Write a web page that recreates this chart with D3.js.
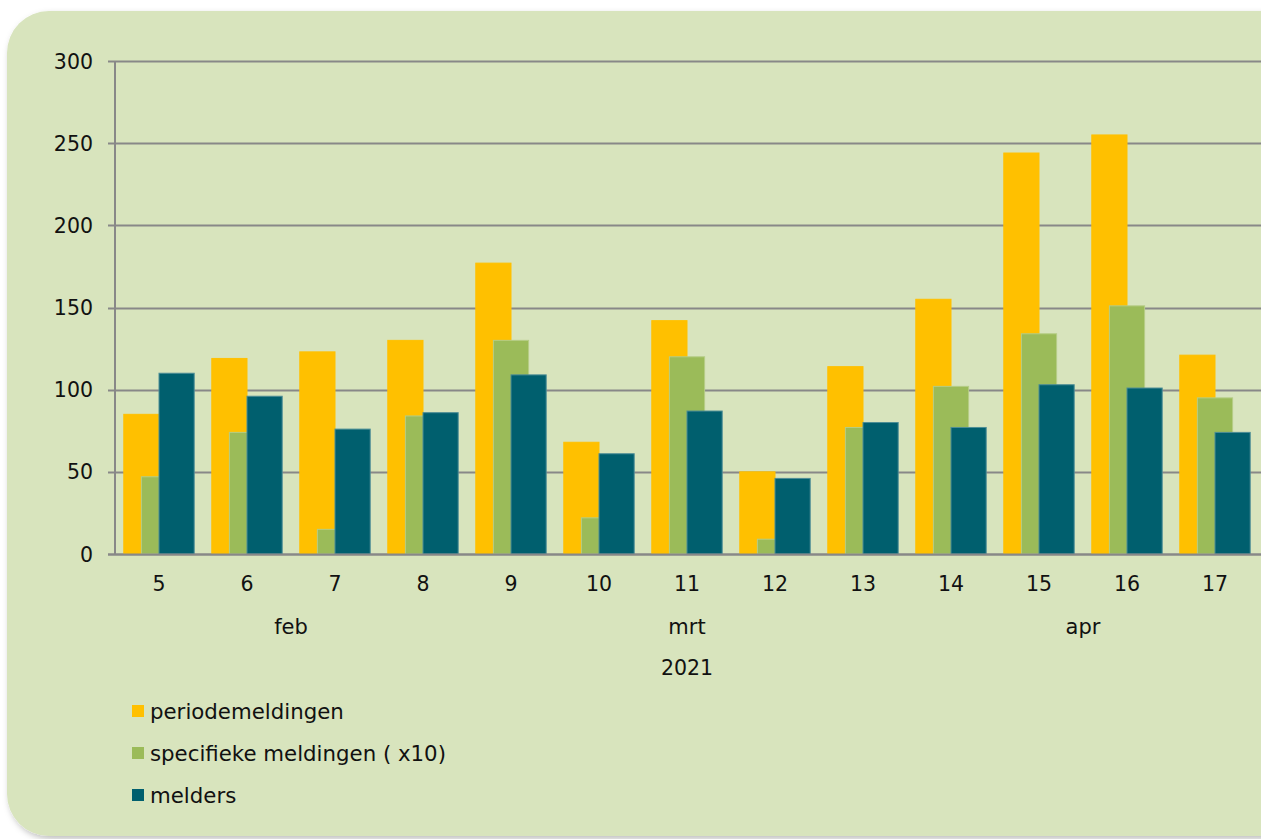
<!DOCTYPE html>
<html>
<head>
<meta charset="utf-8">
<script src="https://cdn.jsdelivr.net/npm/d3@7"></script>
<style>
  html, body { margin: 0; padding: 0; background: #ffffff; }
  svg { display: block; font-family: "DejaVu Sans", Verdana, sans-serif; }
</style>
</head>
<body>
<div id="chart"></div>
<script>
// weeks of 2021 and values
const weeks = ["5", "6", "7", "8", "9", "10", "11", "12", "13", "14", "15", "16", "17"];
const periodemeldingen = [85, 119, 123, 130, 177, 68, 142, 50, 114, 155, 244, 255, 121];
const specifiekeMeldingen = [47, 74, 15, 84, 130, 22, 120, 9, 77, 102, 134, 151, 95];
const melders = [110, 96, 76, 86, 109, 61, 87, 46, 80, 77, 103, 101, 74];

const monthLabels = ["feb", "mrt", "apr"];
const monthWeeks = [["5", "8"], ["9", "13"], ["14", "17"]];
const yearLabel = "2021";
const yTicks = [0, 50, 100, 150, 200, 250, 300];

const seriesNames = ["periodemeldingen", "specifieke meldingen ( x10)", "melders"];
const seriesColors = ["#ffc000", "#9bbb59", "#005f6e"];
const seriesStroke = ["#ffc000", "#b5cd85", "#4d8d96"];
const seriesValues = [periodemeldingen, specifiekeMeldingen, melders];

const W = 1261, H = 839;
const svg = d3.select("#chart").append("svg")
  .attr("width", W)
  .attr("height", H);

// soft shadow for the panel
const defs = svg.append("defs");
const f = defs.append("filter").attr("id", "shadow")
  .attr("x", "-5%").attr("y", "-5%").attr("width", "115%").attr("height", "115%");
f.append("feDropShadow")
  .attr("dx", 2).attr("dy", 3).attr("stdDeviation", 3)
  .attr("flood-color", "#000").attr("flood-opacity", 0.25);

svg.append("rect")
  .attr("x", 7).attr("y", 11)
  .attr("width", W + 60).attr("height", H - 14)
  .attr("rx", 42).attr("ry", 42)
  .attr("fill", "#d8e4bd")
  .attr("filter", "url(#shadow)");

const plotLeft = 115, plotRight = 1259, plotTop = 61, plotBottom = 554;

const x = d3.scaleBand().domain(weeks).range([plotLeft, plotRight]);
const y = d3.scaleLinear().domain([0, 300]).range([plotBottom, plotTop]);

const step = x.step();
const barW = step * 0.4;
const groupW = step * 0.8;
const xOff = d3.scaleLinear().domain([0, 2]).range([(step - groupW) / 2, (step - groupW) / 2 + groupW - barW]);

// gridlines
svg.append("g")
  .selectAll("line")
  .data(yTicks)
  .join("line")
  .attr("x1", plotLeft - 7)
  .attr("x2", W)
  .attr("y1", d => Math.round(y(d)) + 0.5)
  .attr("y2", d => Math.round(y(d)) + 0.5)
  .attr("stroke", "#888888")
  .attr("stroke-width", 2);

// y axis line
svg.append("line")
  .attr("x1", plotLeft).attr("x2", plotLeft)
  .attr("y1", y(300)).attr("y2", y(0))
  .attr("stroke", "#888888").attr("stroke-width", 2);

// y tick labels
svg.append("g")
  .selectAll("text")
  .data(yTicks)
  .join("text")
  .attr("x", 93)
  .attr("y", d => y(d) + 7.5)
  .attr("text-anchor", "end")
  .attr("font-size", 20.5)
  .attr("fill", "#111")
  .text(d => d);

// bars
seriesValues.forEach((vals, i) => {
  svg.append("g")
    .selectAll("rect")
    .data(vals)
    .join("rect")
    .attr("x", (d, j) => x(weeks[j]) + xOff(i))
    .attr("y", d => y(d))
    .attr("width", barW)
    .attr("height", d => y(0) - y(d))
    .attr("fill", seriesColors[i])
    .attr("stroke", seriesStroke[i])
    .attr("stroke-width", 1);
});

// x axis line over bars
svg.append("line")
  .attr("x1", plotLeft - 7).attr("x2", W)
  .attr("y1", Math.round(y(0)) + 0.5).attr("y2", Math.round(y(0)) + 0.5)
  .attr("stroke", "#888888").attr("stroke-width", 2);

// week labels
svg.append("g")
  .selectAll("text")
  .data(weeks)
  .join("text")
  .attr("x", d => x(d) + step / 2)
  .attr("y", 591)
  .attr("text-anchor", "middle")
  .attr("font-size", 20.5)
  .attr("fill", "#111")
  .text(d => d);

// month labels
const center = w => x(w) + step / 2;
svg.append("g")
  .selectAll("text")
  .data(monthLabels)
  .join("text")
  .attr("x", (d, i) => (center(monthWeeks[i][0]) + center(monthWeeks[i][1])) / 2)
  .attr("y", 634)
  .attr("text-anchor", "middle")
  .attr("font-size", 21)
  .attr("fill", "#111")
  .text(d => d);

svg.append("text")
  .attr("x", (center(weeks[0]) + center(weeks[weeks.length - 1])) / 2)
  .attr("y", 675)
  .attr("text-anchor", "middle")
  .attr("font-size", 20.5)
  .attr("fill", "#111")
  .text(yearLabel);

// legend
const legend = svg.append("g").attr("transform", "translate(132,705)");
const rows = legend.selectAll("g")
  .data(seriesNames)
  .join("g")
  .attr("transform", (d, i) => `translate(0,${i * 42})`);
rows.append("rect")
  .attr("width", 12).attr("height", 12)
  .attr("fill", (d, i) => seriesColors[i]);
rows.append("text")
  .attr("x", 18).attr("y", 14)
  .attr("font-size", 21.3)
  .attr("fill", "#111")
  .text(d => d);
</script>
</body>
</html>
